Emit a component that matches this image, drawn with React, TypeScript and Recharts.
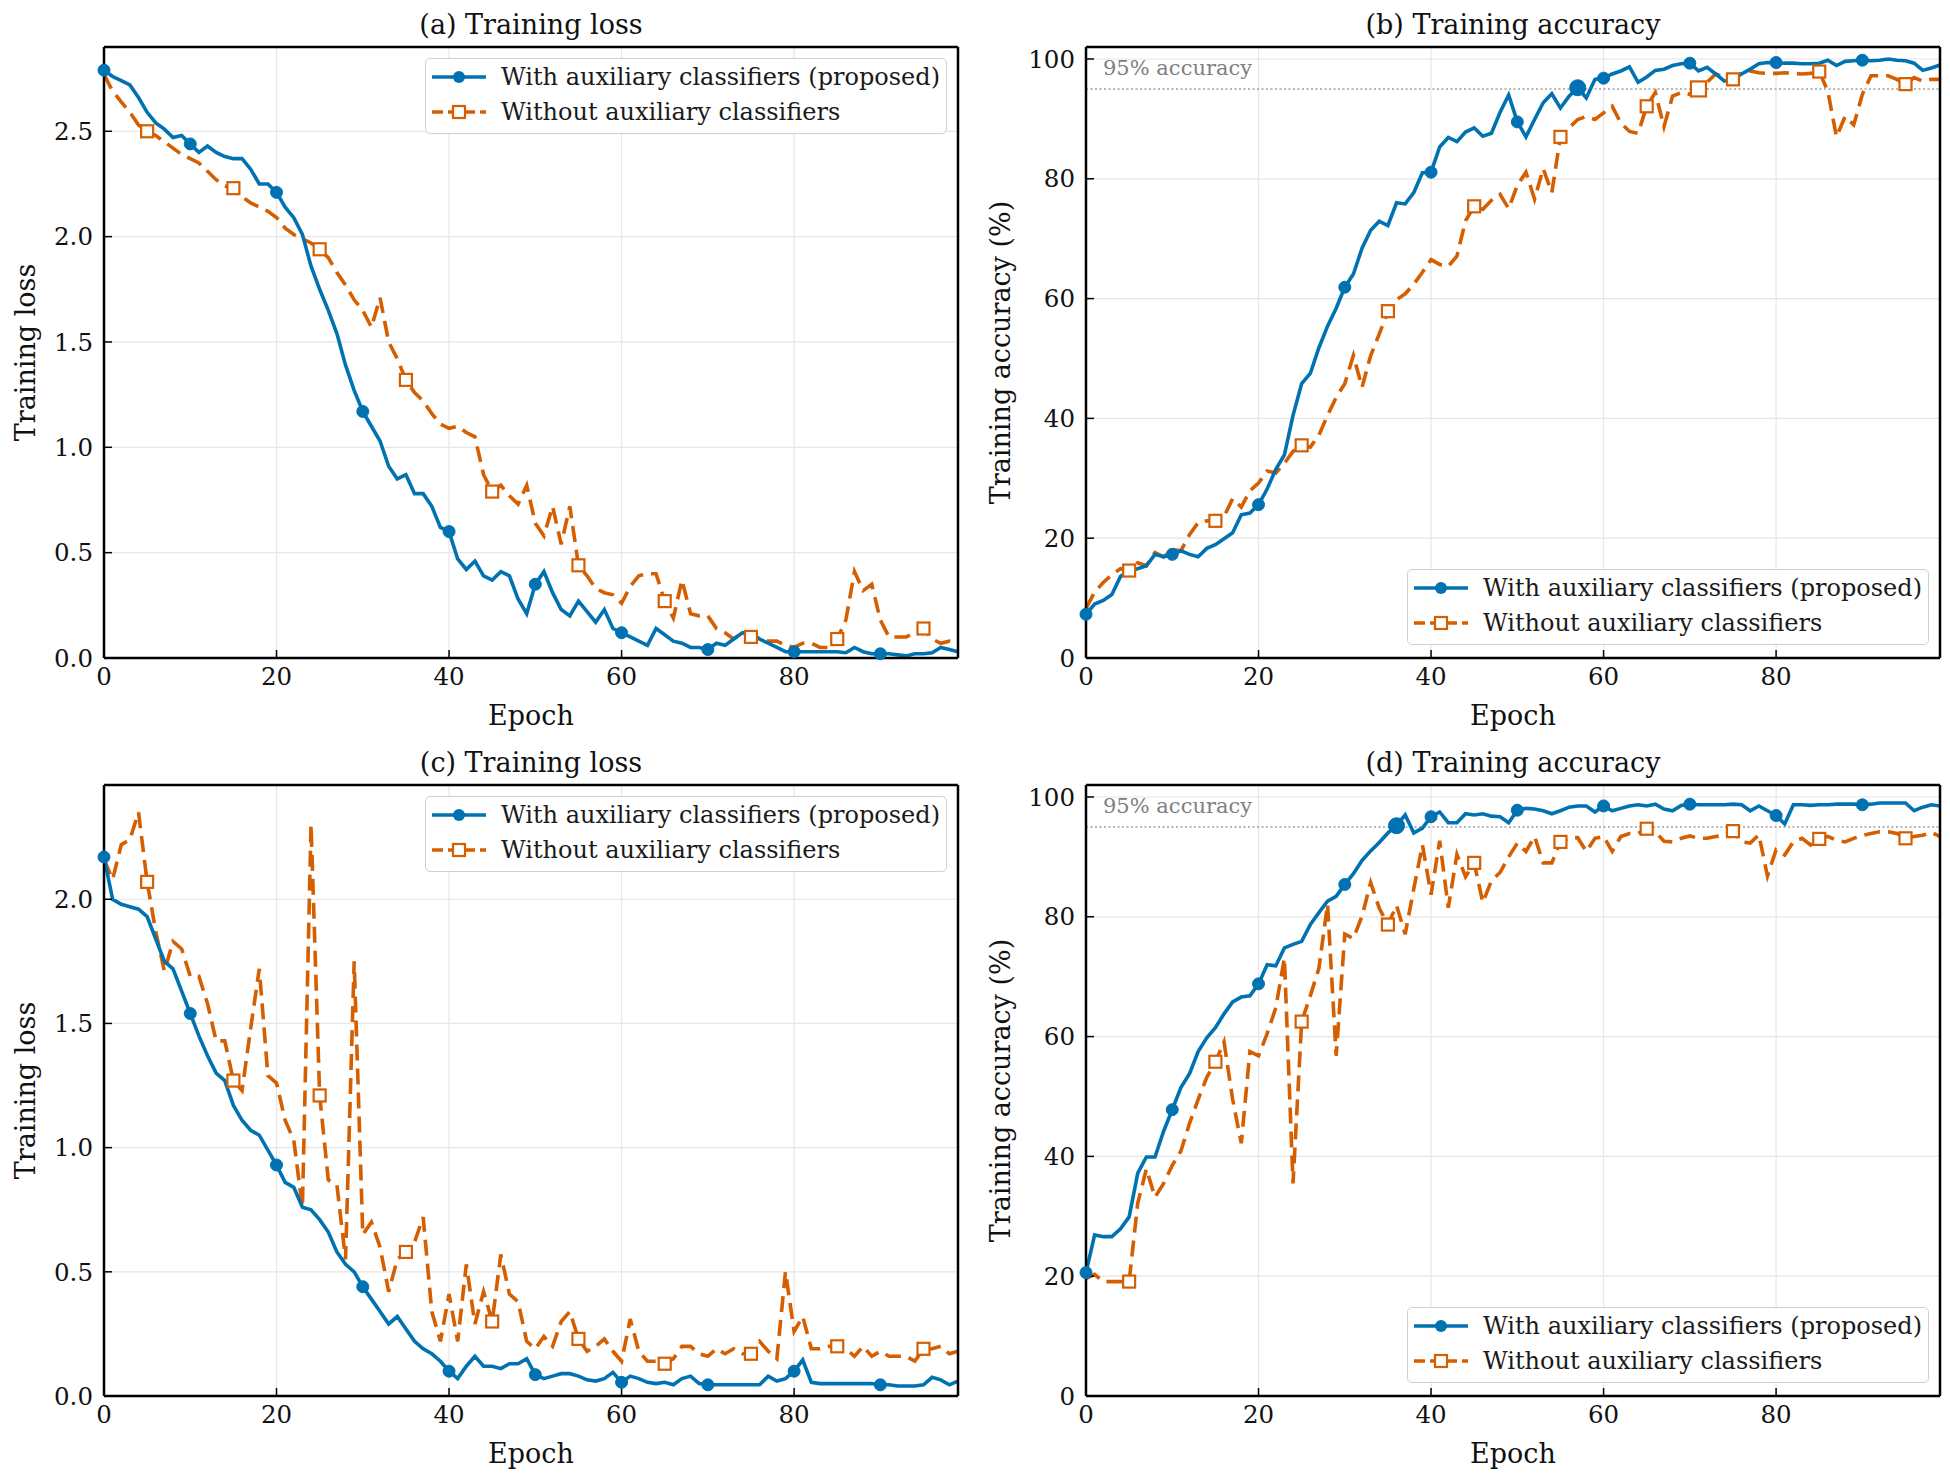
import React from 'react';
import {
  LineChart,
  Line,
  XAxis,
  YAxis,
  CartesianGrid,
  Legend,
  ReferenceLine,
} from 'recharts';

// epochs 0..99
const epochs = Array.from({ length: 100 }, (_, i) => i);

const lossAuxA = [
  2.79, 2.76, 2.74, 2.72, 2.66, 2.59, 2.54, 2.51, 2.47, 2.48,
  2.44, 2.4, 2.43, 2.4, 2.38, 2.37, 2.37, 2.32, 2.25, 2.25,
  2.21, 2.14, 2.09, 2.01, 1.86, 1.75, 1.65, 1.54, 1.39, 1.27,
  1.17, 1.1, 1.03, 0.91, 0.85, 0.87, 0.78, 0.78, 0.72, 0.62,
  0.6, 0.47, 0.42, 0.46, 0.39, 0.37, 0.41, 0.39, 0.28, 0.21,
  0.35, 0.41, 0.31, 0.23, 0.2, 0.27, 0.22, 0.17, 0.23, 0.14,
  0.12, 0.1, 0.08, 0.06, 0.14, 0.11, 0.08, 0.07, 0.05, 0.05,
  0.04, 0.07, 0.06, 0.09, 0.12, 0.12, 0.09, 0.07, 0.05, 0.03,
  0.03, 0.03, 0.03, 0.03, 0.03, 0.03, 0.025, 0.05, 0.03, 0.02,
  0.02, 0.02, 0.015, 0.01, 0.02, 0.02, 0.025, 0.05, 0.04, 0.03,
];
const lossBaseA = [
  2.77, 2.69, 2.64, 2.59, 2.53, 2.5, 2.48, 2.45, 2.42, 2.39,
  2.37, 2.35, 2.31, 2.27, 2.24, 2.23, 2.19, 2.16, 2.14, 2.12,
  2.09, 2.04, 2.01, 1.99, 1.97, 1.94, 1.9, 1.83, 1.77, 1.7,
  1.65, 1.57, 1.71, 1.5, 1.42, 1.32, 1.26, 1.22, 1.16, 1.11,
  1.09, 1.1, 1.07, 1.05, 0.87, 0.79, 0.82, 0.77, 0.73, 0.82,
  0.64, 0.58, 0.72, 0.54, 0.72, 0.44, 0.39, 0.33, 0.31, 0.3,
  0.26, 0.34, 0.39, 0.4, 0.4, 0.27, 0.19, 0.37, 0.21, 0.2,
  0.2, 0.14, 0.12, 0.09, 0.12, 0.1, 0.09, 0.08, 0.08, 0.06,
  0.05, 0.07, 0.07, 0.05, 0.05, 0.09, 0.18, 0.41, 0.32, 0.35,
  0.18, 0.1, 0.1, 0.1, 0.12, 0.14, 0.09, 0.07, 0.08, 0.07,
];
const accAuxB = [
  7.3, 9.0, 9.6, 10.6, 13.6, 14.6, 14.9, 15.4, 17.3, 16.9,
  17.3, 17.9, 17.3, 16.9, 18.3, 18.9, 19.9, 20.9, 23.9, 24.2,
  25.6, 28.2, 31.5, 33.9, 40.5, 45.8, 47.5, 51.8, 55.4, 58.4,
  61.9, 64.1, 68.4, 71.4, 72.9, 72.2, 76.0, 75.8, 77.7, 81.0,
  81.1, 85.3, 86.9, 86.2, 87.8, 88.5, 87.1, 87.6, 91.1, 94.0,
  89.5, 87.0, 89.9, 92.7, 94.2, 91.8, 93.8, 95.2, 93.5, 96.6,
  96.8, 97.5, 98.0, 98.7, 96.1, 97.0, 98.1, 98.3, 98.9, 99.2,
  99.3, 98.0, 98.6, 97.5, 96.3, 96.6, 97.5, 98.3, 99.2, 99.4,
  99.4, 99.3, 99.3, 99.2, 99.2, 99.3, 99.8, 98.9, 99.6, 99.7,
  99.8, 99.7, 99.8, 100.0, 99.8, 99.7, 99.3, 98.1, 98.5, 99.0,
];
const accBaseB = [
  8.3, 11.0, 12.6, 13.9, 14.9, 14.6, 15.9, 15.4, 17.6, 16.9,
  18.1, 17.9, 20.6, 22.6, 22.9, 22.9, 23.6, 26.6, 25.2, 27.9,
  29.2, 31.2, 30.9, 32.5, 34.5, 35.5, 35.2, 37.2, 40.5, 43.5,
  45.8, 50.5, 45.2, 50.5, 54.1, 57.9, 59.8, 60.8, 62.4, 64.4,
  66.5, 65.7, 65.4, 67.1, 73.0, 75.4, 74.9, 76.4, 77.4, 75.0,
  78.9, 81.1, 76.6, 81.7, 77.7, 87.0, 88.5, 89.9, 90.4, 89.9,
  91.0, 92.1, 89.3, 87.9, 87.6, 92.1, 94.4, 88.7, 93.8, 94.4,
  94.1, 95.0, 96.1, 97.5, 96.9, 96.6, 97.7, 98.0, 97.7, 97.6,
  97.6, 97.7, 97.6, 97.5, 97.6, 97.9, 94.6, 87.0, 90.4, 89.0,
  94.1, 97.2, 97.2, 97.2, 96.6, 95.8, 96.9, 96.3, 96.6, 96.6,
];
const lossAuxC = [
  2.17, 2.0, 1.98, 1.97, 1.96, 1.93, 1.84, 1.75, 1.72, 1.63,
  1.54, 1.45, 1.37, 1.3, 1.27, 1.17, 1.11, 1.07, 1.05, 0.99,
  0.93, 0.86, 0.84, 0.76, 0.75, 0.71, 0.66, 0.58, 0.53, 0.5,
  0.44, 0.39, 0.34, 0.29, 0.32, 0.27, 0.22, 0.19, 0.17, 0.14,
  0.1, 0.07, 0.12, 0.16, 0.12, 0.12, 0.11, 0.13, 0.13, 0.15,
  0.086, 0.07, 0.08, 0.09, 0.09, 0.08, 0.065, 0.06, 0.07, 0.095,
  0.055, 0.08, 0.07, 0.055, 0.05, 0.055, 0.045, 0.07, 0.08, 0.05,
  0.045, 0.045, 0.045, 0.045, 0.045, 0.045, 0.045, 0.08, 0.06, 0.07,
  0.1, 0.145, 0.055, 0.05, 0.05, 0.05, 0.05, 0.05, 0.05, 0.05,
  0.045, 0.045, 0.04, 0.04, 0.04, 0.045, 0.075, 0.065, 0.045, 0.06,
];
const lossBaseC = [
  2.16, 2.08, 2.22, 2.24, 2.35, 2.07, 1.87, 1.71, 1.83, 1.8,
  1.69, 1.69, 1.58, 1.43, 1.43, 1.27, 1.23, 1.48, 1.72, 1.29,
  1.26, 1.11, 1.03, 0.76, 2.3, 1.21, 0.87, 0.85, 0.55, 1.75,
  0.65, 0.7, 0.6, 0.42, 0.55, 0.58, 0.62, 0.72, 0.34, 0.22,
  0.41, 0.22, 0.53, 0.29, 0.42, 0.3, 0.57, 0.41, 0.38, 0.22,
  0.19, 0.24, 0.2, 0.3, 0.34, 0.23, 0.18, 0.2, 0.23, 0.18,
  0.14, 0.31, 0.18, 0.14, 0.14, 0.13, 0.15, 0.2, 0.2, 0.17,
  0.16, 0.19, 0.17, 0.19, 0.17, 0.17, 0.22, 0.18, 0.15, 0.5,
  0.26, 0.32, 0.19, 0.19, 0.2, 0.2, 0.19, 0.16, 0.2, 0.16,
  0.18, 0.16, 0.16, 0.16, 0.14, 0.19, 0.19, 0.2, 0.17, 0.18,
];
const accAuxD = [
  20.6, 26.9, 26.6, 26.6, 27.9, 29.9, 37.2, 39.9, 39.9, 44.2,
  47.8, 51.5, 53.8, 57.5, 59.8, 61.5, 63.8, 65.8, 66.6, 66.8,
  68.8, 72.0, 71.8, 74.8, 75.4, 75.9, 78.7, 80.7, 82.6, 83.4,
  85.4, 87.2, 89.4, 91.0, 92.4, 94.0, 95.2, 97.0, 94.0, 94.8,
  96.7, 97.5, 95.7, 95.7, 97.2, 97.0, 97.2, 96.8, 96.7, 95.7,
  97.8, 98.1, 98.0, 97.7, 97.2, 97.7, 98.3, 98.5, 98.5, 97.5,
  98.5, 97.7, 98.1, 98.5, 98.7, 98.5, 98.8, 98.0, 97.7, 98.6,
  98.8, 98.7, 98.7, 98.7, 98.7, 98.8, 98.7, 97.7, 98.5, 97.7,
  96.9, 95.5, 98.7, 98.7, 98.6, 98.7, 98.7, 98.8, 98.8, 98.8,
  98.7, 98.8, 99.0, 99.0, 99.0, 99.0, 97.7, 98.3, 98.7, 98.5,
];
const accBaseD = [
  19.6, 20.3, 19.1, 19.1, 19.1, 19.1, 32.2, 37.9, 33.2, 35.5,
  38.5, 40.9, 45.5, 49.5, 53.2, 55.8, 59.1, 49.5, 42.2, 57.5,
  56.8, 60.5, 64.8, 73.1, 35.5, 62.5, 66.8, 71.4, 82.1, 56.8,
  77.1, 76.4, 80.1, 85.7, 81.4, 78.7, 81.9, 77.1, 84.7, 92.0,
  83.7, 92.7, 81.5, 90.4, 86.7, 89.0, 82.4, 86.0, 87.4, 90.0,
  92.3, 90.9, 93.4, 89.0, 89.0, 92.5, 93.1, 93.2, 90.9, 93.1,
  93.4, 90.9, 93.4, 93.9, 93.9, 94.7, 94.2, 92.6, 92.5, 93.1,
  93.5, 93.1, 93.1, 93.4, 93.6, 94.3, 92.5, 92.3, 93.7, 86.8,
  91.2, 90.3, 92.5, 93.1, 92.0, 93.0, 93.4, 92.8, 92.5, 93.1,
  93.6, 93.9, 94.2, 94.2, 93.9, 93.1, 93.4, 93.6, 94.1, 93.4,
];

const epochTicks = [0, 20, 40, 60, 80];
const lossTicksA = [0, 0.5, 1, 1.5, 2, 2.5];
const lossTicksC = [0, 0.5, 1, 1.5, 2];
const accTicks = [0, 20, 40, 60, 80, 100];

const seriesNames = ['With auxiliary classifiers (proposed)', 'Without auxiliary classifiers'];
const targetAcc = 95;

const FONT = '"DejaVu Serif", serif';
const BLUE = '#0072B2';
const ORANGE = '#D55E00';
const W = 975;
const H = 738;
const PLOT_W = 854;
const LINE_W = 3.6;

const LegendIcon = ({ color, dashed, square }: { color: string; dashed?: boolean; square?: boolean }) => (
  <svg width={56} height={20} style={{ position: 'absolute', left: 5, top: 7 }}>
    <line x1={1} y1={10} x2={55} y2={10} stroke={color} strokeWidth={LINE_W} strokeDasharray={dashed ? '11 5' : undefined} />
    {square ? (
      <rect x={22} y={4} width={12} height={12} fill="#fff" stroke={color} strokeWidth={2.2} />
    ) : (
      <circle cx={28} cy={10} r={6} fill={color} />
    )}
  </svg>
);

const LegendBox = () => (
  <div
    style={{
      width: 522,
      height: 76,
      boxSizing: 'border-box',
      border: '1.5px solid #d0d0d0',
      borderRadius: 5,
      background: 'rgba(255,255,255,0.85)',
      fontFamily: FONT,
      fontSize: 24,
      color: '#1a1a1a',
      position: 'relative',
    }}
  >
    {seriesNames.map((name, i) => (
      <div key={name} style={{ position: 'absolute', left: 0, top: 1 + i * 35, height: 35, width: '100%' }}>
        <LegendIcon color={i === 0 ? BLUE : ORANGE} dashed={i === 1} square={i === 1} />
        <span style={{ position: 'absolute', left: 75, top: 2, whiteSpace: 'nowrap', lineHeight: '30px' }}>{name}</span>
      </div>
    ))}
  </div>
);

interface PanelProps {
  title: string;
  yLabel: string;
  aux: number[];
  base: number[];
  yMax: number;
  yTicks: number[];
  decimals: number;
  plotLeft: number;
  legendBottom?: boolean;
  showTarget?: boolean;
}

function Panel({ title, yLabel, aux, base, yMax, yTicks, decimals, plotLeft, legendBottom, showTarget }: PanelProps) {
  const data = epochs.map((e, i) => ({ epoch: e, aux: aux[i], base: base[i] }));
  const rightMargin = W - plotLeft - PLOT_W;
  const hitAux = showTarget ? aux.findIndex((v) => v >= targetAcc) : -1;
  const hitBase = showTarget ? base.findIndex((v) => v >= targetAcc) : -1;

  const auxDot = (p: any) => {
    const { cx, cy, index } = p;
    if (index !== hitAux && index % 10 !== 0) return <g key={`a${index}`} />;
    return <circle key={`a${index}`} cx={cx} cy={cy} r={index === hitAux ? 8 : 6} fill={BLUE} stroke={BLUE} />;
  };
  const baseDot = (p: any) => {
    const { cx, cy, index } = p;
    if (index !== hitBase && index % 10 !== 5) return <g key={`b${index}`} />;
    const s = index === hitBase ? 15 : 12;
    return (
      <rect key={`b${index}`} x={cx - s / 2} y={cy - s / 2} width={s} height={s} fill="#fff" stroke={ORANGE} strokeWidth={2.2} />
    );
  };

  const tickStyle = { fontFamily: FONT, fontSize: 24.5, fill: '#111' };
  const legendTop = legendBottom ? 569 : 58;
  const legendLeft = plotLeft + PLOT_W - 11 - 522;

  return (
    <LineChart width={W} height={H} data={data} margin={{ top: 46, right: rightMargin - 1, bottom: 50, left: 0 }}>
      <CartesianGrid stroke="#e6e6e6" strokeWidth={1.2} />
      <XAxis
        dataKey="epoch"
        type="number"
        domain={[0, 99]}
        ticks={epochTicks}
        height={30}
        tick={tickStyle}
        tickSize={-8}
        tickMargin={18}
        tickLine={{ stroke: '#000', strokeWidth: 1.5 }}
        axisLine={{ stroke: '#000', strokeWidth: 2.5 }}
        label={(p: any) => (
          <text x={p.viewBox.x + p.viewBox.width / 2} y={p.viewBox.y + 67} textAnchor="middle" fontFamily={FONT} fontSize={27} fill="#111">
            Epoch
          </text>
        )}
      />
      <XAxis
        xAxisId="top"
        orientation="top"
        type="number"
        domain={[0, 99]}
        height={1}
        tick={false}
        tickLine={false}
        axisLine={{ stroke: '#000', strokeWidth: 2.5 }}
        label={(p: any) => (
          <text x={p.viewBox.x + p.viewBox.width / 2} y={p.viewBox.y + p.viewBox.height - 13} textAnchor="middle" fontFamily={FONT} fontSize={27} fill="#111">
            {title}
          </text>
        )}
      />
      <YAxis
        type="number"
        domain={[0, yMax]}
        ticks={yTicks}
        width={plotLeft}
        tick={tickStyle}
        tickFormatter={(v: number) => v.toFixed(decimals)}
        tickSize={-8}
        tickMargin={19}
        tickLine={{ stroke: '#000', strokeWidth: 1.5 }}
        axisLine={{ stroke: '#000', strokeWidth: 2.5 }}
        label={(p: any) => {
          const cx = 25;
          const cy = p.viewBox.y + p.viewBox.height / 2;
          return (
            <text x={cx} y={cy} transform={`rotate(-90 ${cx} ${cy})`} textAnchor="middle" dominantBaseline="central" fontFamily={FONT} fontSize={27} fill="#111">
              {yLabel}
            </text>
          );
        }}
      />
      <YAxis
        yAxisId="right"
        orientation="right"
        type="number"
        domain={[0, yMax]}
        width={1}
        tick={false}
        tickLine={false}
        axisLine={{ stroke: '#000', strokeWidth: 2.5 }}
      />
      {showTarget && (
        <ReferenceLine
          y={targetAcc}
          stroke="#a0a0a0"
          strokeWidth={1.5}
          strokeDasharray="2 2.5"
          label={(p: any) => (
            <text x={p.viewBox.x + 17} y={p.viewBox.y - 14} fontFamily={FONT} fontSize={21} fill="#808080">
              95% accuracy
            </text>
          )}
        />
      )}
      <Line
        type="linear"
        dataKey="base"
        name={seriesNames[1]}
        stroke={ORANGE}
        strokeWidth={LINE_W}
        strokeDasharray="16 8"
        dot={baseDot}
        activeDot={false}
        isAnimationActive={false}
      />
      <Line
        type="linear"
        dataKey="aux"
        name={seriesNames[0]}
        stroke={BLUE}
        strokeWidth={LINE_W}
        dot={auxDot}
        activeDot={false}
        isAnimationActive={false}
      />
      <Legend
        layout="horizontal"
        verticalAlign="middle"
        align="center"
        wrapperStyle={{ left: legendLeft, top: legendTop, width: 522, height: 76 }}
        content={() => <LegendBox />}
      />
    </LineChart>
  );
}

export default function App() {
  return (
    <div style={{ position: 'absolute', left: 0, top: 0, width: 1950, height: 1476, background: '#fff' }}>
      <div style={{ position: 'absolute', left: 0, top: 0 }}>
        <Panel title="(a) Training loss" yLabel="Training loss" aux={lossAuxA} base={lossBaseA} yMax={2.9} yTicks={lossTicksA} decimals={1} plotLeft={104} />
      </div>
      <div style={{ position: 'absolute', left: W, top: 0 }}>
        <Panel title="(b) Training accuracy" yLabel="Training accuracy (%)" aux={accAuxB} base={accBaseB} yMax={102} yTicks={accTicks} decimals={0} plotLeft={111} legendBottom showTarget />
      </div>
      <div style={{ position: 'absolute', left: 0, top: H }}>
        <Panel title="(c) Training loss" yLabel="Training loss" aux={lossAuxC} base={lossBaseC} yMax={2.46} yTicks={lossTicksC} decimals={1} plotLeft={104} />
      </div>
      <div style={{ position: 'absolute', left: W, top: H }}>
        <Panel title="(d) Training accuracy" yLabel="Training accuracy (%)" aux={accAuxD} base={accBaseD} yMax={102} yTicks={accTicks} decimals={0} plotLeft={111} legendBottom showTarget />
      </div>
    </div>
  );
}
